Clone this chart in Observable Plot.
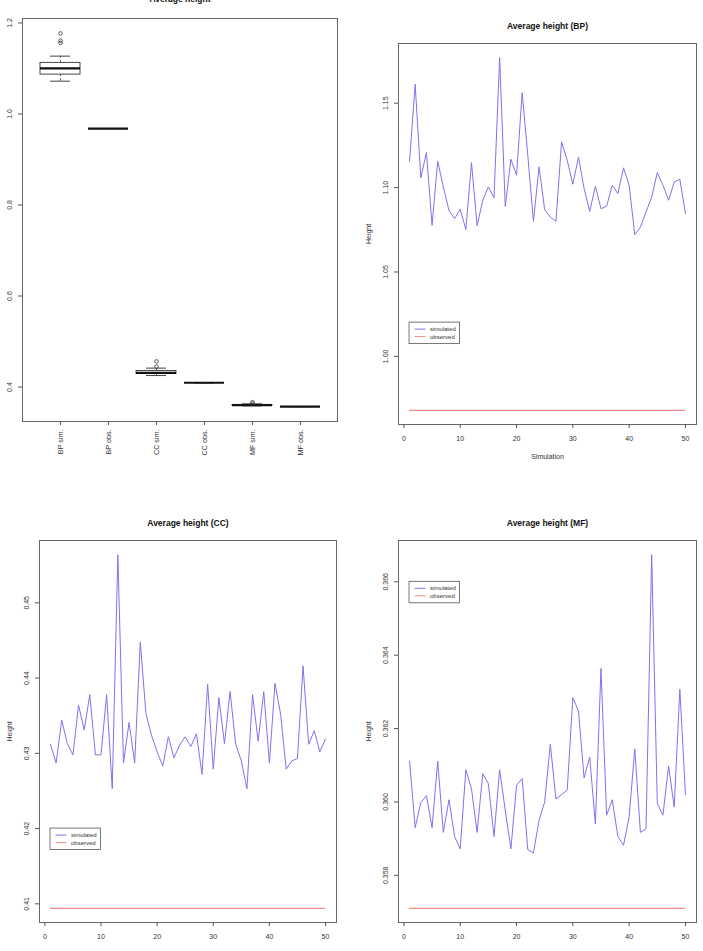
<!DOCTYPE html>
<html>
<head>
<meta charset="utf-8">
<script src="https://cdn.jsdelivr.net/npm/d3@7"></script>
<script src="https://cdn.jsdelivr.net/npm/@observablehq/plot@0.6"></script>
<style>
  html, body { margin: 0; padding: 0; background: #fff; }
  #page { position: relative; width: 703px; height: 951px; overflow: hidden; background: #fff; }
  #page svg { position: absolute; }
</style>
</head>
<body>
<div id="page"></div>
<script>
// Average height per simulation run (50 runs) and the observed average, per site.
const bpSim = [1.1156, 1.1612, 1.1057, 1.1208, 1.0776, 1.1156, 1.1004, 1.0865, 1.0816, 1.0871,
               1.0752, 1.1148, 1.0774, 1.0925, 1.1004, 1.0940, 1.1770, 1.0889, 1.1168, 1.1073,
               1.1562, 1.1192, 1.0800, 1.1123, 1.0869, 1.0826, 1.0800, 1.1271, 1.1162, 1.1020,
               1.1180, 1.0994, 1.0859, 1.1008, 1.0875, 1.0889, 1.1014, 1.0964, 1.1117, 1.1014,
               1.0721, 1.0766, 1.0855, 1.0944, 1.1089, 1.1014, 1.0925, 1.1033, 1.1049, 1.0845];
const ccSim = [0.4312, 0.4287, 0.4344, 0.4313, 0.4298, 0.4364, 0.4331, 0.4378, 0.4298, 0.4298,
               0.4378, 0.4253, 0.4564, 0.4287, 0.4341, 0.4287, 0.4448, 0.4353, 0.4324, 0.4302,
               0.4283, 0.4322, 0.4294, 0.4311, 0.4322, 0.4309, 0.4326, 0.4272, 0.4392, 0.4279,
               0.4374, 0.4313, 0.4382, 0.4312, 0.4290, 0.4253, 0.4378, 0.4316, 0.4382, 0.4287,
               0.4393, 0.4352, 0.4279, 0.4290, 0.4293, 0.4416, 0.4312, 0.4330, 0.4302, 0.4319];
const mfSim = [0.36111, 0.35930, 0.35998, 0.36017, 0.35930, 0.36111, 0.35917, 0.36006, 0.35906, 0.35872,
               0.36088, 0.36036, 0.35917, 0.36077, 0.36050, 0.35906, 0.36088, 0.35977, 0.35872, 0.36045,
               0.36064, 0.35870, 0.35861, 0.35950, 0.36000, 0.36157, 0.36008, 0.36020, 0.36032, 0.36284,
               0.36248, 0.36065, 0.36122, 0.35940, 0.36364, 0.35964, 0.36006, 0.35906, 0.35882, 0.35959,
               0.36144, 0.35917, 0.35927, 0.36674, 0.35996, 0.35964, 0.36098, 0.35986, 0.36307, 0.36020];
const bpObs = 0.968;
const ccObs = 0.4094;
const mfObs = 0.3571;

const groupNames = ["BP sim.", "BP obs.", "CC sim.", "CC obs.", "MF sim.", "MF obs."];
const xTicks = [0, 10, 20, 30, 40, 50];
const boxTicks = [0.4, 0.6, 0.8, 1.0, 1.2];
const bpTicks = [1.00, 1.05, 1.10, 1.15];
const ccTicks = [0.41, 0.42, 0.43, 0.44, 0.45];
const mfTicks = [0.358, 0.360, 0.362, 0.364, 0.366];
const legendLabels = ["simulated", "observed"];

const simColor = "#8c6cf0";
const obsColor = "#ef8a86";
const fontFamily = "'Liberation Sans', Arial, Helvetica, sans-serif";
const page = document.getElementById("page");

// Base-graphics style axis range: data extent widened by 4% on each side.
function rExpand([lo, hi]) {
  const pad = (hi - lo) * 0.04;
  return [lo - pad, hi + pad];
}

// Tukey hinges and 1.5 * IQR whiskers, as in boxplot.stats.
function boxStats(values) {
  const v = values.slice().sort(d3.ascending);
  const n = v.length;
  const n4 = Math.floor((n + 3) / 2) / 2;
  const d = [1, n4, (n + 1) / 2, n + 1 - n4, n];
  const q = d.map(i => 0.5 * (v[Math.floor(i) - 1] + v[Math.ceil(i) - 1]));
  const iqr = q[3] - q[1];
  const lo = q[1] - 1.5 * iqr, hi = q[3] + 1.5 * iqr;
  const inside = v.filter(x => x >= lo && x <= hi);
  return {q1: q[1], med: q[2], q3: q[3], lo: d3.min(inside), hi: d3.max(inside),
          out: v.filter(x => x < lo || x > hi)};
}

const baseStyle = {fontFamily, fontSize: "7px", color: "#333", background: "transparent", overflow: "visible"};

function place(svg, left, top) {
  svg.style.left = left + "px";
  svg.style.top = top + "px";
  page.appendChild(svg);
}

function titleMark(title, dy) {
  return Plot.text([title], {text: d => d, frameAnchor: "top", dy, fontWeight: "bold", fontSize: 8.5,
                             fill: "#111", textAnchor: "middle", lineAnchor: "middle"});
}

function yTickMarks(ticks, fmt) {
  return [
    Plot.axisY({ticks, tickSize: 4, tickFormat: () => "", label: null, stroke: "#555"}),
    Plot.text(ticks, {y: d => d, text: fmt, frameAnchor: "left", dx: -13, rotate: -90,
                      textAnchor: "middle", lineAnchor: "middle", fill: "#333"})
  ];
}

// Boxed legend anchored at a data position (top-left corner).
function legendBox(xValue, yValue) {
  return (index, scales) => {
    const g = d3.create("svg:g")
      .attr("transform", `translate(${scales.x(xValue)},${scales.y(yValue)})`)
      .attr("font-size", 6)
      .attr("font-family", fontFamily)
      .attr("text-anchor", "start")
      .attr("fill", "#333");
    g.append("rect").attr("width", 50.5).attr("height", 21.5)
      .attr("fill", "white").attr("stroke", "#555").attr("stroke-width", 0.8);
    legendLabels.forEach((label, i) => {
      const cy = 7 + i * 7.5;
      g.append("line").attr("x1", 5.5).attr("x2", 16.5).attr("y1", cy).attr("y2", cy)
        .attr("stroke", i === 0 ? simColor : obsColor).attr("stroke-width", 1);
      g.append("text").attr("x", 21).attr("y", cy).attr("dy", "0.35em")
        .attr("text-anchor", "start").text(label);
    });
    return g.node();
  };
}

// ---- Box plot of all simulated and observed averages ----
const groups = [
  {name: groupNames[0], values: bpSim}, {name: groupNames[1], values: [bpObs]},
  {name: groupNames[2], values: ccSim}, {name: groupNames[3], values: [ccObs]},
  {name: groupNames[4], values: mfSim}, {name: groupNames[5], values: [mfObs]}
];
const stats = groups.map(g => ({name: g.name, ...boxStats(g.values)}));
const outliers = stats.flatMap(s => s.out.map(value => ({name: s.name, value})));

place(Plot.plot({
  width: 351, height: 475,
  marginTop: 18, marginRight: 14, marginBottom: 54, marginLeft: 22,
  style: baseStyle,
  x: {type: "band", domain: groupNames, paddingInner: 0.175, paddingOuter: 0.3275},
  y: {domain: rExpand(d3.extent(groups.flatMap(g => g.values)))},
  marks: [
    Plot.frame({stroke: "#666"}),
    Plot.axisX({tickSize: 4, tickFormat: () => "", label: null, stroke: "#555"}),
    Plot.text(groupNames, {x: d => d, text: d => d, frameAnchor: "bottom", dy: 8, rotate: -90,
                           textAnchor: "end", lineAnchor: "middle", fontSize: 7.2, fill: "#333"}),
    ...yTickMarks(boxTicks, d => d.toFixed(1)),
    Plot.ruleX(stats, {x: "name", y1: "q3", y2: "hi", stroke: "#666", strokeDasharray: "2.5,2"}),
    Plot.ruleX(stats, {x: "name", y1: "lo", y2: "q1", stroke: "#666", strokeDasharray: "2.5,2"}),
    Plot.tickY(stats, {x: "name", y: "hi", insetLeft: 10, insetRight: 10, stroke: "#444"}),
    Plot.tickY(stats, {x: "name", y: "lo", insetLeft: 10, insetRight: 10, stroke: "#444"}),
    Plot.barY(stats, {x: "name", y1: "q1", y2: "q3", fill: "white", stroke: "#333", strokeWidth: 0.9}),
    Plot.tickY(stats, {x: "name", y: "med", stroke: "#111", strokeWidth: 2.2}),
    Plot.dot(outliers, {x: "name", y: "value", r: 1.8, stroke: "#333", strokeWidth: 0.8, fill: "none"}),
    titleMark("Average height", -19)
  ]
}), 0, 0);

// ---- Simulated series against the observed value ----
function linePanel({title, sim, obs, ticks, fmt, legendY, width, height, margins, titleDy}) {
  return Plot.plot({
    width, height, ...margins,
    style: baseStyle,
    x: {domain: rExpand([1, sim.length])},
    y: {domain: rExpand(d3.extent([...sim, obs]))},
    marks: [
      Plot.frame({stroke: "#666"}),
      Plot.axisX({ticks: xTicks, tickSize: 4, tickFormat: () => "", label: null, stroke: "#555"}),
      Plot.text(xTicks, {x: d => d, text: d => String(d), frameAnchor: "bottom", dy: 14,
                         textAnchor: "middle", lineAnchor: "middle", fill: "#333"}),
      ...yTickMarks(ticks, fmt),
      Plot.ruleY([obs], {x1: 1, x2: sim.length, stroke: obsColor, strokeWidth: 1.4}),
      Plot.line(sim, {x: (d, i) => i + 1, y: d => d, stroke: simColor, strokeWidth: 1}),
      legendBox(1, legendY),
      titleMark(title, titleDy),
      Plot.text(["Height"], {text: d => d, frameAnchor: "left", dx: -30, rotate: -90,
                             textAnchor: "middle", lineAnchor: "middle", fill: "#333"}),
      Plot.text(["Simulation"], {text: d => d, frameAnchor: "bottom", dy: 32,
                                 textAnchor: "middle", lineAnchor: "middle", fill: "#333"})
    ]
  });
}

place(linePanel({
  title: "Average height (BP)", sim: bpSim, obs: bpObs, ticks: bpTicks, fmt: d => d.toFixed(2),
  legendY: 1.02, width: 352, height: 475, titleDy: -17.5,
  margins: {marginTop: 43, marginRight: 7, marginBottom: 51, marginLeft: 47}
}), 351, 0);

place(linePanel({
  title: "Average height (CC)", sim: ccSim, obs: ccObs, ticks: ccTicks, fmt: d => d.toFixed(2),
  legendY: 0.42, width: 351, height: 490, titleDy: -17,
  margins: {marginTop: 65, marginRight: 15, marginBottom: 43, marginLeft: 39}
}), 0, 475);

place(linePanel({
  title: "Average height (MF)", sim: mfSim, obs: mfObs, ticks: mfTicks, fmt: d => d.toFixed(3),
  legendY: 0.366, width: 352, height: 490, titleDy: -17,
  margins: {marginTop: 65, marginRight: 7, marginBottom: 43, marginLeft: 47}
}), 351, 475);
</script>
</body>
</html>
